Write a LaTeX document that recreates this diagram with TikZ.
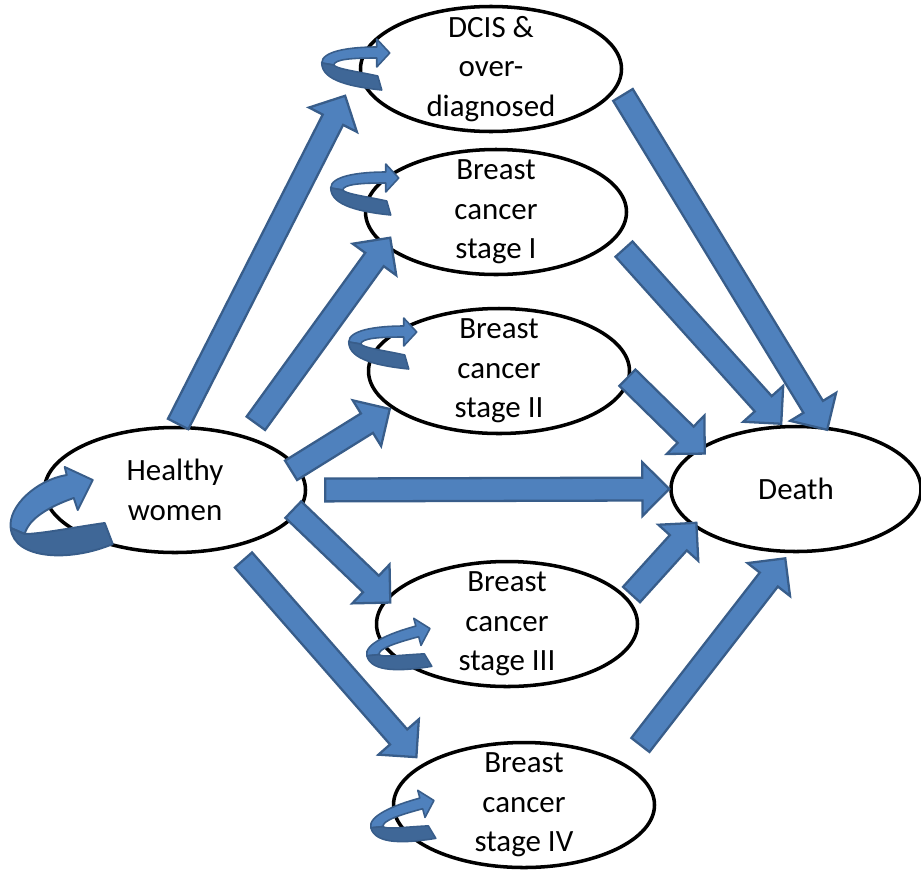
\documentclass[tikz,border=0pt]{standalone}
\usepackage{fontspec}
\setmainfont{Carlito}
\usetikzlibrary{shapes.geometric,calc}
\definecolor{arrowfill}{HTML}{4F81BD}
\definecolor{arrowline}{HTML}{385D8A}
\definecolor{loopback}{HTML}{3F6797}

\begin{document}
\begin{tikzpicture}[x=0.2mm, y=-0.2mm, line join=round,
	font=\fontsize{17.6}{22.4}\selectfont,
	state/.style={draw, line width=2pt, fill=white, ellipse, align=center,
		inner xsep=0pt, inner ysep=-9pt, minimum width=52.2mm, minimum height=25mm},
	tail gap/.store in=\tailgap, head gap/.store in=\headgap, tail gap=0, head gap=0,
	block/.style={draw=arrowline, fill=arrowfill, line width=1.3pt, line join=miter,
		to path={let \p1=($(\tikztotarget)-(\tikztostart)$), \n1={veclen(\x1,\y1)},
			\n2={atan2(\y1,\x1)} in [shift={(\tikztostart)}, rotate=\n2]
			({\tailgap*0.2mm},-6.5pt) -- ({\n1-\headgap*0.2mm-15.3pt},-6.5pt)
			-- ({\n1-\headgap*0.2mm-15.3pt},-15.3pt) -- ({\n1-\headgap*0.2mm},0pt)
			-- ({\n1-\headgap*0.2mm-15.3pt},15.3pt) -- ({\n1-\headgap*0.2mm-15.3pt},6.5pt)
			-- ({\tailgap*0.2mm},6.5pt) -- cycle}},
	bigloop/.pic={
		\filldraw[fill=arrowfill, draw=arrowline, line width=1.1pt] (0,6) .. controls (-3,-15) and (25,-42) .. (56,-47) -- (54,-55) -- (82,-42) -- (67,-12) -- (63,-24) .. controls (40,-16) and (18,-4) .. (14,12) -- cycle;
		\filldraw[fill=loopback, draw=arrowline, line width=1.1pt] (102,22) .. controls (60,40) and (3,38) .. (0,6) -- (14,12) .. controls (30,12) and (65,5) .. (94,1) -- cycle;
	},
	smallloop/.pic={
		\filldraw[fill=arrowfill, draw=arrowline, line width=0.9pt] (-3,0) .. controls (-3,-12) and (25,-16) .. (52,-16) -- (52,-24) -- (65,-10) -- (52,4) -- (52,-5) .. controls (28,-5) and (10,-4) .. (9,2) -- cycle;
		\filldraw[fill=loopback, draw=arrowline, line width=0.9pt] (57,27) .. controls (28,24) and (-3,18) .. (-3,0) -- (9,2) .. controls (12,6) and (30,8) .. (53,13) -- cycle;
	}]
	\useasboundingbox (0,0) rectangle (921,870);

	% states
	\node[state] (hw) at (175,490) {Healthy\\women};
	\node[state] (dcis) at (491,69) {DCIS \&\\over-\\diagnosed};
	\node[state] (s1) at (496,212) {Breast\\cancer\\stage I};
	\node[state] (s2) at (499,371) {Breast\\cancer\\stage II};
	\node[state] (s3) at (507,624) {Breast\\cancer\\stage III};
	\node[state] (s4) at (524,805) {Breast\\cancer\\stage IV};
	\node[state, minimum width=50mm] (death) at (796,489) {Death};

	% transitions
	\draw[block, tail gap=2, head gap=30] (hw.88) to (dcis.west);
	\draw[block, tail gap=15.7, head gap=-10.5] (hw.37) to (s1.197);
	\draw[block, tail gap=-7.9, head gap=1.5] (hw.11) to (s2.199);
	\draw[block, tail gap=18] (hw.east) to (death.west);
	\draw[block, tail gap=-6.2, head gap=-6.4] (hw.349) to (s3.168);
	\draw[block, tail gap=16.2, head gap=9] (hw.315) to (s4.158);
	\draw[block, tail gap=9.5, head gap=-3.9] (dcis.352) to (death.65);
	\draw[block, tail gap=12.8, head gap=1.8] (s1.347) to (death.102);
	\draw[block, tail gap=-3.5, head gap=-8.5] (s2.356) to (death.157);
	\draw[block, tail gap=5, head gap=-5.1] (s3.12) to (death.200);
	\draw[block, tail gap=24, head gap=6.5] (s4.22) to (death.264);

	% staying in the same state
	\pic at ($(hw.west)+(-32,32)$) {bigloop};
	\pic at ($(dcis.west)+(-34,-6)$) {smallloop};
	\pic at ($(s1.west)+(-30,-24)$) {smallloop};
	\pic at ($(s2.west)+(-15,-29)$) {smallloop};
	\pic[rotate=15] at ($(s3.west)+(-5,31)$) {smallloop};
	\pic[rotate=15] at ($(s4.west)+(-18,22)$) {smallloop};
\end{tikzpicture}
\end{document}
